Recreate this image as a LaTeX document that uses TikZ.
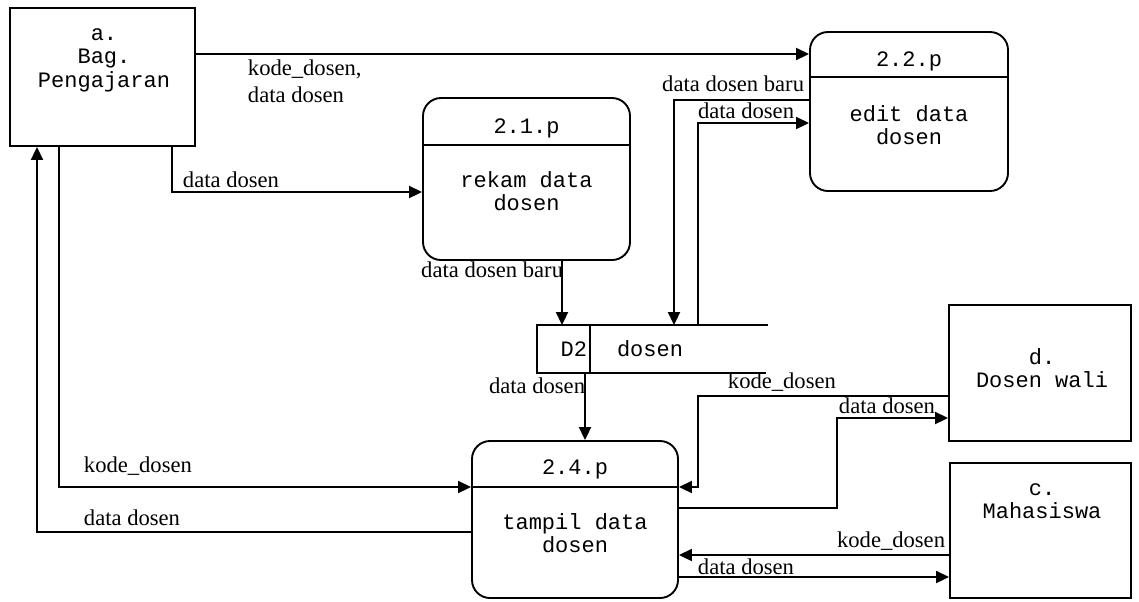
\documentclass[tikz,border=0pt]{standalone}
\usepackage{fontspec}
\setmainfont{Liberation Serif}
\setmonofont{Liberation Mono}
\usetikzlibrary{arrows.meta}

\begin{document}
\begin{tikzpicture}[x=0.5pt,y=-0.5pt,
  line width=0.95pt,
  flow/.style={-{Triangle[length=6.5pt,width=6pt]}},
  entity/.style={draw, rectangle, inner sep=0pt},
  proc/.style={draw, rectangle, rounded corners=9pt, inner sep=0pt},
  ttext/.style={font=\ttfamily\fontsize{11}{11.8}\selectfont, align=center, inner sep=0pt},
  lbl/.style={font=\fontsize{11.3}{13.5}\selectfont, inner sep=0pt, align=left},
]
\useasboundingbox (0,0) rectangle (1139,601);

% ---------- external entities ----------
\node[entity, minimum width=92.5pt, minimum height=69pt] (a) at (102.5,77) {};
\node[ttext] (aT) at (104,60) {a.\\Bag.\\Pengajaran};

\node[entity, minimum width=91pt, minimum height=68pt] (d) at (1040,373) {};
\node[ttext] (dT) at (1042,368) {d.\\Dosen wali};

\node[entity, minimum width=90.5pt, minimum height=67.5pt] (c) at (1040.5,530.5) {};
\node[ttext] (cT) at (1042,501) {c.\\Mahasiswa};

% ---------- processes ----------
\node[proc, minimum width=103.5pt, minimum height=81pt] (p21) at (526.5,179) {};
\node[ttext] (p21h) at (526.5,128) {2.1.p};
\node[ttext] (p21b) at (526.5,191) {rekam data\\dosen};

\node[proc, minimum width=99pt, minimum height=79.5pt] (p22) at (909,111.5) {};
\node[ttext] (p22h) at (909,61) {2.2.p};
\node[ttext] (p22b) at (909,125) {edit data\\dosen};

\node[proc, minimum width=103pt, minimum height=78.5pt] (p24) at (575,519.5) {};
\node[ttext] (p24h) at (575,469) {2.4.p};
\node[ttext] (p24b) at (575,533) {tampil data\\dosen};

% header dividers
\coordinate (h21) at (0,145);
\coordinate (h22) at (0,77);
\coordinate (h24) at (0,487);
\draw (p21.west |- h21) -- (p21.east |- h21);
\draw (p22.west |- h22) -- (p22.east |- h22);
\draw (p24.west |- h24) -- (p24.east |- h24);

% ---------- data store D2 ----------
\node[minimum width=114.5pt, minimum height=23pt, inner sep=0pt] (ds) at (652.5,349) {};
\draw (ds.north east) -- (ds.north west) -- (ds.south west) -- ([xshift=-1pt]ds.south east);
\coordinate (dsdiv) at (590,0);
\draw (ds.north -| dsdiv) -- (ds.south -| dsdiv);
\node[ttext, anchor=east] (dsid) at (588,349) {D2};
\node[ttext] (dsname) at (650,349) {dosen};

% ---------- helper positions for connector routes ----------
\coordinate (y54)  at (0,54);
\coordinate (y100) at (0,100);
\coordinate (y123) at (0,123);
\coordinate (y192) at (0,192);
\coordinate (y396) at (0,396);
\coordinate (y418) at (0,418);
\coordinate (y508) at (0,508);
\coordinate (y532) at (0,532);
\coordinate (y555) at (0,555);
\coordinate (y577) at (0,577);
\coordinate (x37)  at (37,0);
\coordinate (x59)  at (59,0);
\coordinate (x172) at (172,0);
\coordinate (x562) at (562,0);
\coordinate (x585) at (585,0);
\coordinate (x674) at (674,0);
\coordinate (x698) at (698,0);
\coordinate (k1)   at (698,487);
\coordinate (k2)   at (837,418);
\coordinate (k3)   at (674,100);

% ---------- data flows ----------
\draw[flow] (a.east |- y54) -- (p22.west |- y54);
\node[lbl, anchor=north west] (l1) at (247,59) {kode\_dosen,\\data dosen};

\draw[flow] (a.south -| x172) |- (p21.west |- y192);
\node[lbl, anchor=south west] (l2) at (182,189) {data dosen};

\draw[flow] (p21.south -| x562) -- (ds.north -| x562);
\node[lbl, anchor=north east] (l3) at (564,261) {data dosen baru};

\draw[flow] (p22.west |- y100) -- (k3) -- (ds.north -| x674);
\node[lbl, anchor=east] (l4) at (805,84) {data dosen baru};

\draw[flow] (ds.north -| x698) |- (p22.west |- y123);
\node[lbl, anchor=east] (l5) at (795,111) {data dosen};

\draw[flow] (ds.south -| x585) -- (p24.north -| x585);
\node[lbl, anchor=east] (l6) at (586,386) {data dosen};

\draw[flow] (d.west |- y396) -| (k1) -- (p24.east |- h24);
\node[lbl, anchor=west] (l7) at (727,382) {kode\_dosen};

\draw[flow] (p24.east |- y508) -| (k2) -- (d.west |- y418);
\node[lbl, anchor=west] (l8) at (838,406) {data dosen};

\draw[flow] (c.west |- y555) -- (p24.east |- y555);
\node[lbl, anchor=east] (l9) at (946,541) {kode\_dosen};

\draw[flow] (p24.east |- y577) -- (c.west |- y577);
\node[lbl, anchor=west] (l10) at (697,567) {data dosen};

\draw[flow] (a.south -| x59) |- (p24.west |- h24);
\node[lbl, anchor=west] (l11) at (83,466) {kode\_dosen};

\draw[flow] (p24.west |- y532) -| (a.south -| x37);
\node[lbl, anchor=west] (l12) at (83,518) {data dosen};
\end{tikzpicture}
\end{document}
